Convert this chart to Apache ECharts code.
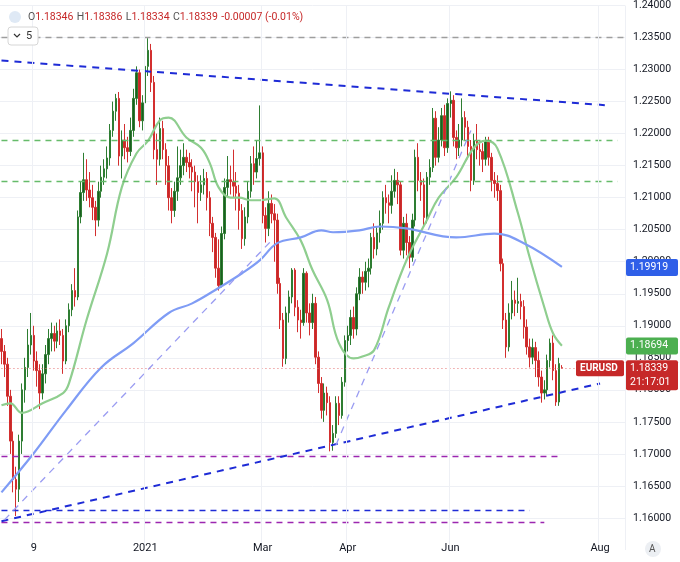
<!DOCTYPE html>
<html>
<head>
<meta charset="UTF-8">
<script src="https://cdn.jsdelivr.net/npm/echarts@6/dist/echarts.min.js"></script>
<style>
  html, body { margin: 0; padding: 0; background: #fff; }
  #main { width: 680px; height: 562px; }
</style>
</head>
<body>
<div id="main"></div>
<script type="text/javascript">
// daily EURUSD candles: [open, close, low, high]
var candles = [
[1.1880,1.1860,1.1840,1.1895],[1.1860,1.1840,1.1820,1.1870],[1.1840,1.1790,1.1775,1.1850],[1.1790,1.1720,1.1700,1.1800],
[1.1720,1.1660,1.1640,1.1735],[1.1660,1.1645,1.1603,1.1680],[1.1645,1.1720,1.1625,1.1730],[1.1720,1.1800,1.1700,1.1810],
[1.1800,1.1835,1.1780,1.1850],[1.1835,1.1870,1.1820,1.1895],[1.1870,1.1885,1.1855,1.1920],[1.1885,1.1845,1.1830,1.1900],
[1.1845,1.1830,1.1805,1.1860],[1.1830,1.1795,1.1770,1.1840],[1.1795,1.1825,1.1785,1.1840],[1.1825,1.1855,1.1810,1.1870],
[1.1855,1.1880,1.1840,1.1895],[1.1880,1.1888,1.1860,1.1905],[1.1888,1.1876,1.1860,1.1900],[1.1876,1.1892,1.1865,1.1905],
[1.1892,1.1885,1.1870,1.1910],[1.1885,1.1845,1.1825,1.1895],[1.1845,1.1900,1.1840,1.1910],[1.1900,1.1925,1.1890,1.1935],
[1.1925,1.1955,1.1915,1.1965],[1.1955,1.1945,1.1930,1.1990],[1.1945,1.2070,1.1940,1.2080],[1.2070,1.2108,1.2060,1.2125],
[1.2108,1.2128,1.2095,1.2170],[1.2128,1.2112,1.2095,1.2160],[1.2112,1.2100,1.2085,1.2140],[1.2100,1.2085,1.2065,1.2120],
[1.2085,1.2065,1.2040,1.2095],[1.2065,1.2110,1.2055,1.2125],[1.2110,1.2132,1.2100,1.2150],[1.2132,1.2145,1.2120,1.2160],
[1.2145,1.2162,1.2130,1.2180],[1.2162,1.2205,1.2150,1.2215],[1.2205,1.2235,1.2195,1.2250],[1.2235,1.2255,1.2220,1.2262],
[1.2255,1.2165,1.2150,1.2265],[1.2165,1.2190,1.2130,1.2205],[1.2190,1.2178,1.2160,1.2215],[1.2178,1.2172,1.2155,1.2195],
[1.2172,1.2205,1.2165,1.2225],[1.2205,1.2255,1.2195,1.2270],[1.2255,1.2295,1.2245,1.2305],[1.2295,1.2220,1.2210,1.2300],
[1.2220,1.2248,1.2205,1.2260],[1.2248,1.2305,1.2240,1.2320],[1.2305,1.2330,1.2290,1.2349],[1.2330,1.2280,1.2265,1.2340],
[1.2280,1.2175,1.2160,1.2290],[1.2175,1.2160,1.2120,1.2200],[1.2160,1.2208,1.2150,1.2225],[1.2208,1.2175,1.2160,1.2220],
[1.2175,1.2150,1.2120,1.2185],[1.2150,1.2100,1.2080,1.2165],[1.2100,1.2080,1.2060,1.2115],[1.2080,1.2110,1.2070,1.2125],
[1.2110,1.2131,1.2095,1.2180],[1.2131,1.2150,1.2120,1.2175],[1.2150,1.2163,1.2135,1.2185],[1.2163,1.2155,1.2140,1.2175],
[1.2155,1.2148,1.2130,1.2170],[1.2148,1.2140,1.2110,1.2160],[1.2140,1.2125,1.2085,1.2150],[1.2125,1.2108,1.2060,1.2135],
[1.2108,1.2120,1.2095,1.2135],[1.2120,1.2130,1.2105,1.2145],[1.2130,1.2100,1.2080,1.2140],[1.2100,1.2060,1.2040,1.2110],
[1.2060,1.2038,1.2015,1.2070],[1.2038,1.1990,1.1975,1.2045],[1.1990,1.1963,1.1955,1.2035],[1.1963,1.2044,1.1960,1.2055],
[1.2044,1.2116,1.2035,1.2130],[1.2116,1.2128,1.2100,1.2165],[1.2128,1.2125,1.2105,1.2150],[1.2125,1.2118,1.2100,1.2175],
[1.2118,1.2107,1.2080,1.2140],[1.2107,1.2080,1.2050,1.2120],[1.2080,1.2036,1.2020,1.2090],[1.2036,1.2070,1.2025,1.2085],
[1.2070,1.2110,1.2060,1.2125],[1.2110,1.2153,1.2100,1.2165],[1.2153,1.2140,1.2120,1.2180],[1.2140,1.2161,1.2130,1.2190],
[1.2161,1.2170,1.2150,1.2244],[1.2170,1.2072,1.2060,1.2180],[1.2072,1.2052,1.2030,1.2085],[1.2052,1.2091,1.2040,1.2110],
[1.2091,1.2075,1.2060,1.2105],[1.2075,1.2065,1.2000,1.2090],[1.2065,1.1966,1.1950,1.2075],[1.1966,1.1909,1.1895,1.1975],
[1.1909,1.1849,1.1836,1.1920],[1.1849,1.1920,1.1840,1.1930],[1.1920,1.1945,1.1905,1.1955],[1.1945,1.1987,1.1935,1.1990],
[1.1987,1.1929,1.1915,1.1990],[1.1929,1.1909,1.1890,1.1940],[1.1909,1.1905,1.1880,1.1925],[1.1905,1.1982,1.1900,1.1990],
[1.1982,1.1920,1.1905,1.1985],[1.1920,1.1905,1.1885,1.1935],[1.1905,1.1935,1.1895,1.1950],[1.1935,1.1851,1.1840,1.1945],
[1.1851,1.1810,1.1795,1.1860],[1.1810,1.1768,1.1755,1.1820],[1.1768,1.1795,1.1750,1.1810],[1.1795,1.1780,1.1760,1.1805],
[1.1780,1.1718,1.1704,1.1790],[1.1718,1.1732,1.1705,1.1745],[1.1732,1.1779,1.1725,1.1790],[1.1779,1.1760,1.1745,1.1790],
[1.1760,1.1812,1.1755,1.1820],[1.1812,1.1877,1.1805,1.1885],[1.1877,1.1885,1.1860,1.1900],[1.1885,1.1913,1.1870,1.1925],
[1.1913,1.1895,1.1880,1.1930],[1.1895,1.1950,1.1885,1.1960],[1.1950,1.1976,1.1940,1.1990],[1.1976,1.1968,1.1950,1.1985],
[1.1968,1.1985,1.1955,1.2000],[1.1985,1.1990,1.1960,1.2005],[1.1990,1.2038,1.1980,1.2045],[1.2038,1.2020,1.2005,1.2060],
[1.2020,1.2045,1.2010,1.2055],[1.2045,1.2060,1.2030,1.2080],[1.2060,1.2100,1.2050,1.2110],[1.2100,1.2092,1.2075,1.2120],
[1.2092,1.2088,1.2060,1.2105],[1.2088,1.2110,1.2075,1.2135],[1.2110,1.2127,1.2100,1.2145],[1.2127,1.2120,1.2090,1.2140],
[1.2120,1.2018,1.2010,1.2125],[1.2018,1.2060,1.2005,1.2070],[1.2060,1.2030,1.2010,1.2075],[1.2030,1.2007,1.1990,1.2040],
[1.2007,1.2065,1.2000,1.2075],[1.2065,1.2163,1.2055,1.2175],[1.2163,1.2127,1.2110,1.2185],[1.2127,1.2120,1.2095,1.2140],
[1.2120,1.2069,1.2055,1.2130],[1.2069,1.2132,1.2060,1.2140],[1.2132,1.2147,1.2120,1.2160],[1.2147,1.2224,1.2140,1.2240],
[1.2224,1.2163,1.2150,1.2235],[1.2163,1.2190,1.2155,1.2210],[1.2190,1.2228,1.2180,1.2240],[1.2228,1.2178,1.2165,1.2245],
[1.2178,1.2247,1.2170,1.2255],[1.2247,1.2252,1.2225,1.2266],[1.2252,1.2194,1.2180,1.2260],[1.2194,1.2178,1.2160,1.2205],
[1.2178,1.2190,1.2165,1.2215],[1.2190,1.2225,1.2180,1.2255],[1.2225,1.2210,1.2190,1.2235],[1.2210,1.2180,1.2160,1.2220],
[1.2180,1.2127,1.2110,1.2190],[1.2127,1.2189,1.2120,1.2200],[1.2189,1.2175,1.2160,1.2215],[1.2175,1.2172,1.2150,1.2190],
[1.2172,1.2160,1.2140,1.2185],[1.2160,1.2189,1.2150,1.2195],[1.2189,1.2163,1.2150,1.2195],[1.2163,1.2127,1.2110,1.2170],
[1.2127,1.2122,1.2100,1.2140],[1.2122,1.2111,1.2095,1.2135],[1.2111,1.1997,1.1985,1.2120],[1.1997,1.1909,1.1895,1.2005],
[1.1909,1.1867,1.1850,1.1920],[1.1867,1.1920,1.1860,1.1935],[1.1920,1.1940,1.1910,1.1970],[1.1940,1.1935,1.1915,1.1955],
[1.1935,1.1938,1.1920,1.1975],[1.1938,1.1930,1.1910,1.1950],[1.1930,1.1898,1.1880,1.1940],[1.1898,1.1867,1.1855,1.1910],
[1.1867,1.1851,1.1835,1.1880],[1.1851,1.1866,1.1840,1.1880],[1.1866,1.1846,1.1820,1.1875],[1.1846,1.1820,1.1805,1.1860],
[1.1820,1.1795,1.1780,1.1830],[1.1795,1.1800,1.1785,1.1815],[1.1800,1.1846,1.1790,1.1855],[1.1846,1.1873,1.1835,1.1880],
[1.1873,1.1830,1.1815,1.1885],[1.1830,1.1781,1.1775,1.1840],[1.1781,1.1841,1.1775,1.1850],[1.18346,1.18339,1.18334,1.18386]
];

// moving averages, [bar index, value]
var greenMA = [[0,1.1776],[3,1.1779],[7,1.1764],[14,1.1779],[21,1.1795],[23,1.1810],[29,1.1909],[36,1.2013],[41,1.2116],
  [46,1.2169],[50,1.2189],[54,1.2221],[57,1.2225],[63,1.2194],[68,1.2178],[71,1.2154],[74,1.2116],[78,1.2100],[81,1.2100],
  [85,1.2096],[88,1.2096],[93,1.2099],[97,1.2069],[102,1.2033],[106,1.1987],[111,1.1940],[115,1.1873],[120,1.1849],
  [123,1.1852],[127,1.1862],[132,1.1929],[138,1.2002],[145,1.2065],[149,1.2100],[155,1.2132],[161,1.2178],[165,1.2189],
  [169,1.2177],[176,1.2076],[180,1.2007],[185,1.1929],[188,1.1888],[191,1.1869]];
var blueMA = [[0,1.1640],[11,1.1701],[22,1.1768],[34,1.1835],[45,1.1873],[57,1.1920],[65,1.1935],[74,1.1959],[82,1.1982],
  [88,1.2002],[94,1.2029],[102,1.2038],[109,1.2049],[113,1.2046],[122,1.2049],[129,1.2055],[138,1.2052],[155,1.2038],
  [168,1.2044],[178,1.2029],[191,1.1992]];

// axis labels at bar index
var xLabels = {11: '9', 49: '2021', 89: 'Mar', 118: 'Apr', 153: 'Jun', 204: 'Aug'};
var nBars = 213;

// drawn levels and trendlines
var hLevels = [
  {v: 1.2350, from: 0, to: 212, color: '#9e9e9e'},
  {v: 1.2190, from: 0, to: 210, color: '#66bb6a'},
  {v: 1.2125, from: 0, to: 210, color: '#66bb6a'},
  {v: 1.1697, from: 0, to: 190, color: '#9c27b0'},
  {v: 1.1612, from: 0, to: 180, color: '#1e2bd6'},
  {v: 1.1593, from: 0, to: 185, color: '#9c27b0'}
];
var trends = [
  {a: [0, 1.2314], b: [207, 1.2244], color: '#1e2bd6', width: 2},
  {a: [0, 1.1595], b: [204, 1.1810], color: '#1e2bd6', width: 2},
  {a: [1, 1.1597], b: [92, 1.2033], color: '#9a9cf2', width: 1.3},
  {a: [114, 1.1714], b: [160, 1.2205], color: '#9a9cf2', width: 1.3}
];
var lastPrice = 1.18339;

var cats = [];
for (var i = 0; i < nBars; i++) cats.push(String(i));

var myChart = echarts.init(document.getElementById('main'));

var mlData = [];
hLevels.forEach(function (h) {
  mlData.push([{coord: [h.from, h.v], lineStyle: {color: h.color, type: [6, 5], width: 1.3}}, {coord: [h.to, h.v]}]);
});
trends.forEach(function (t) {
  mlData.push([{coord: t.a, lineStyle: {color: t.color, type: [7, 6], width: t.width}}, {coord: t.b}]);
});
mlData.push([{coord: [0, lastPrice], lineStyle: {color: '#e57373', type: [1, 3], width: 1}}, {coord: [212, lastPrice]}]);

myChart.setOption({
  animation: false,
  backgroundColor: '#fff',
  grid: {left: 0, right: 55, top: 5, bottom: 12},
  xAxis: {
    type: 'category',
    data: cats,
    z: 10,
    axisLine: {show: false},
    axisTick: {show: false},
    axisLabel: {
      interval: function (idx) { return xLabels[idx] !== undefined; },
      formatter: function (v, idx) { return xLabels[idx] || ''; },
      margin: -7, fontSize: 11, color: '#131722', fontFamily: 'Roboto'
    },
    splitLine: {show: true, interval: function (idx) { return xLabels[idx] !== undefined; }, lineStyle: {color: '#eef0f5'}}
  },
  yAxis: {
    type: 'value',
    position: 'right',
    min: 1.155, max: 1.24, interval: 0.005,
    axisLine: {show: false},
    axisTick: {show: false},
    axisLabel: {formatter: function (v) { return v < 1.1575 ? '' : v.toFixed(5); }, fontSize: 10.5, color: '#131722', margin: 8, fontFamily: 'Roboto'},
    splitLine: {lineStyle: {color: '#eef0f5'}}
  },
  series: [
    {
      type: 'candlestick',
      data: candles,
      barWidth: 2,
      itemStyle: {color: '#1b5e20', color0: '#c62828', borderColor: '#2e7d32', borderColor0: '#d32f2f', borderWidth: 1},
      markLine: {silent: true, symbol: ['none', 'none'], label: {show: false}, data: mlData}
    },
    {type: 'line', data: greenMA, smooth: 0.4, showSymbol: false, lineStyle: {color: '#8fce8f', width: 2.2}, z: 3},
    {type: 'line', data: blueMA, smooth: 0.4, showSymbol: false, lineStyle: {color: '#7f9cf5', width: 2.2}, z: 3}
  ]
});

function py(v) { return myChart.convertToPixel({yAxisIndex: 0}, v); }
function tag(v, bg, lines, h) {
  var y = py(v);
  var els = [{type: 'rect', shape: {x: 626, y: y - 8, width: 52, height: h, r: 2}, style: {fill: bg}, z: 20}];
  lines.forEach(function (t, k) {
    els.push({type: 'text', x: 630, y: y - 0 + k * 14, style: {text: t, fill: '#fff', font: '10.5px Roboto', verticalAlign: 'middle'}, z: 21});
  });
  return els;
}

var g = [
  {type: 'rect', shape: {x: 0, y: 540, width: 625, height: 22}, style: {fill: '#fff'}, z: 5},
  {type: 'circle', shape: {cx: 15, cy: 17, r: 6}, style: {fill: '#dfe9f5'}, z: 20},
  {type: 'text', x: 28, y: 17, z: 20, style: {
    rich: {k: {fill: '#555', font: '10.5px Roboto'}, v: {fill: '#c62828', font: '10.5px Roboto'}},
    text: '{k|O}{v|1.18346} {k|H}{v|1.18386} {k|L}{v|1.18334} {k|C}{v|1.18339} {v|-0.00007 (-0.01%)}',
    verticalAlign: 'middle'}},
  {type: 'rect', shape: {x: 8, y: 27, width: 30, height: 18, r: 3}, style: {fill: '#fff', stroke: '#d6d6d6'}, z: 20},
  {type: 'polyline', shape: {points: [[14, 34], [17, 37], [20, 34]]}, style: {stroke: '#333', lineWidth: 1.2, fill: null}, z: 21},
  {type: 'text', x: 26, y: 36, style: {text: '5', fill: '#333', font: '11px Roboto', verticalAlign: 'middle'}, z: 21},
  {type: 'circle', shape: {cx: 653, cy: 549, r: 8}, style: {fill: '#eceff3'}, z: 20},
  {type: 'text', x: 649, y: 549, style: {text: 'A', fill: '#555', font: '10px Roboto', verticalAlign: 'middle'}, z: 21},
  {type: 'rect', shape: {x: 576, y: py(lastPrice) - 8, width: 48, height: 16, r: 2}, style: {fill: '#c62828'}, z: 20},
  {type: 'text', x: 580, y: py(lastPrice), style: {text: 'EURUSD', fill: '#fff', font: 'bold 10px Roboto', verticalAlign: 'middle'}, z: 21}
];
g = g.concat(tag(1.19919, '#2f5fe8', ['1.19919'], 17));
g = g.concat(tag(1.18694, '#4caf50', ['1.18694'], 17));
g = g.concat(tag(lastPrice, '#c62828', ['1.18339', '21:17:01'], 30));

myChart.setOption({graphic: g});
</script>
</body>
</html>
